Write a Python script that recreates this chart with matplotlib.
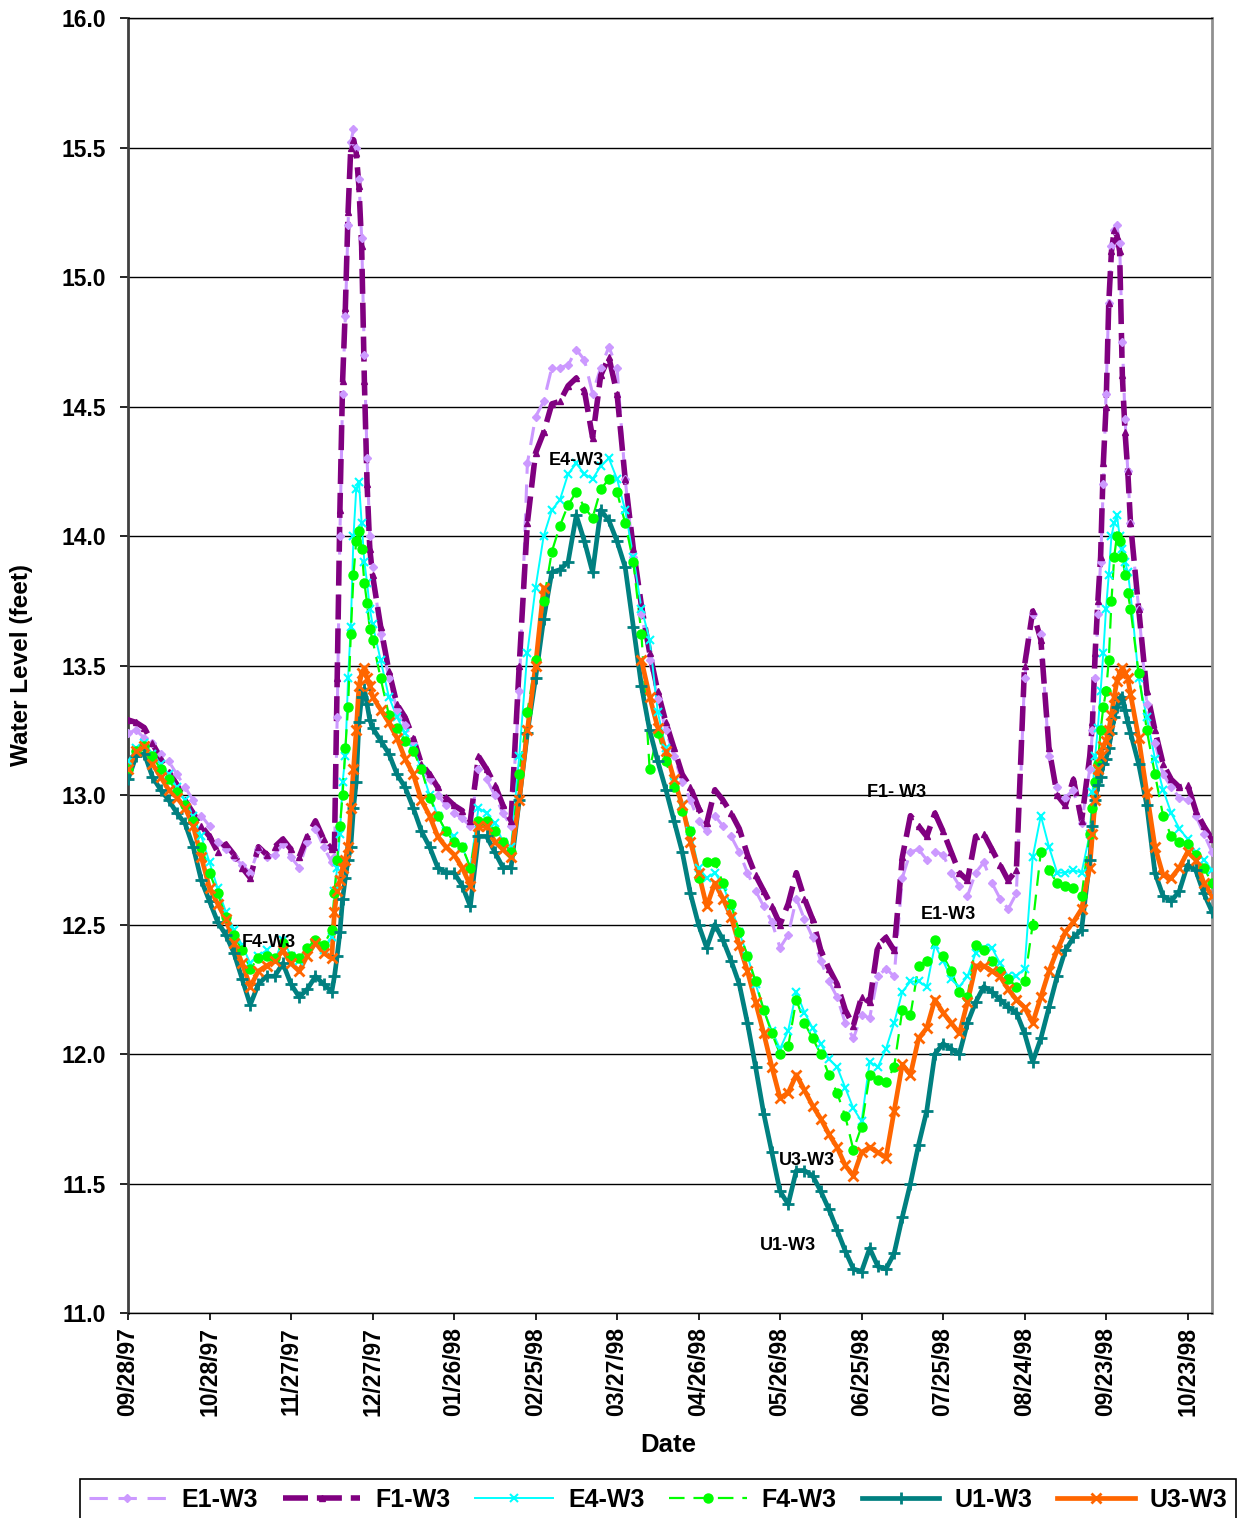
import numpy as np
import matplotlib
matplotlib.use('Agg')
import matplotlib.pyplot as plt
import matplotlib.dates as mdates
from matplotlib.lines import Line2D
from matplotlib.ticker import FormatStrFormatter

plt.rcParams['font.family'] = ['Liberation Sans', 'DejaVu Sans']
plt.rcParams['font.weight'] = 'bold'

nan = np.nan

# ── Data ──────────────────────────────────────────────────────────────────────
START = np.datetime64('1997-09-28')
# sample days, counted from START (denser around the two sharp peaks)
days = (list(range(0, 76, 3)) + list(range(76, 90)) + list(range(90, 355, 3))
        + list(range(355, 370)) + list(range(372, 400, 3)))

e1_w3 = [
    13.24, 13.25, 13.22, 13.20, 13.16, 13.13, 13.08, 13.03, 12.98, 12.92,
    12.88, 12.82, 12.79, 12.76, 12.73, 12.70, 12.79, 12.76, 12.77, 12.81,
    12.76, 12.72, 12.82, 12.87, 12.80, 12.74,
    12.76, 13.30, 14.00, 14.55, 14.85, 15.20, 15.52, 15.57, 15.50, 15.38, 15.15, 14.70, 14.30, 14.00,
    13.88, 13.62, 13.45, 13.33, 13.27, 13.20, 13.10, 13.06, 13.00, 12.96,
    12.93, 12.91, 12.88, 13.10, 13.06, 13.00, 12.93, 12.88, 13.40, 14.28,
    14.46, 14.52, 14.65, 14.65, 14.66, 14.72, 14.68, 14.55, 14.65, 14.73,
    14.65, 14.22, 13.92, 13.70, 13.52, 13.37, 13.25, 13.15, 13.05, 12.98,
    12.90, 12.86, 12.92, 12.88, 12.84, 12.78, 12.70, 12.63, 12.57, 12.51,
    12.41, 12.46, 12.60, 12.52, 12.45, 12.36, 12.28, 12.22, 12.12, 12.06,
    12.15, 12.14, 12.30, 12.33, 12.30, 12.68, 12.78, 12.79, 12.75, 12.78,
    12.77, 12.70, 12.65, 12.61, 12.70, 12.74, 12.66, 12.60, 12.56, 12.62,
    13.45, 13.70, 13.62, 13.15, 13.03, 12.99, 13.02, 12.89, 13.10,
    13.25, 13.45, 13.70, 13.90, 14.20, 14.55, 14.90, 15.12, 15.18, 15.20, 15.13, 14.75, 14.45, 14.25, 14.05,
    13.72, 13.35, 13.20, 13.08, 13.03, 12.99, 12.98, 12.92, 12.85, 12.78,
]

f1_w3 = [
    13.29, 13.28, 13.26, 13.20, 13.14, 13.09, 13.04, 12.98, 12.93, 12.88,
    12.84, 12.78, 12.81, 12.77, 12.72, 12.68, 12.80, 12.77, 12.80, 12.83,
    12.79, 12.76, 12.84, 12.90, 12.83, 12.79,
    12.80, 13.45, 14.10, 14.60, 14.88, 15.25, 15.50, 15.53, 15.48, 15.35, 15.12, 14.60, 14.20, 13.95,
    13.85, 13.65, 13.48, 13.35, 13.30, 13.22, 13.12, 13.08, 13.03, 12.99,
    12.96, 12.94, 12.90, 13.15, 13.10, 13.04, 12.96, 12.90, 13.50, 14.05,
    14.32, 14.40, 14.51, 14.52, 14.58, 14.61, 14.56, 14.38, 14.62, 14.69,
    14.55, 14.22, 13.95, 13.73, 13.55, 13.40, 13.28, 13.18, 13.08, 13.03,
    12.95, 12.89, 13.02, 12.98, 12.93, 12.87, 12.77, 12.69, 12.63, 12.57,
    12.50, 12.58, 12.70, 12.60, 12.52, 12.40, 12.33, 12.27, 12.17, 12.11,
    12.22, 12.20, 12.42, 12.45, 12.40, 12.76, 12.92, 12.88, 12.84, 12.93,
    12.86, 12.78, 12.70, 12.67, 12.84, 12.85, 12.79, 12.73, 12.67, 12.71,
    13.50, 13.71, 13.60, 13.18, 13.00, 12.96, 13.06, 12.90, 13.15,
    13.28, 13.55, 13.75, 13.92, 14.28, 14.50, 14.90, 15.10, 15.18, 15.16, 15.10, 14.62, 14.40, 14.25, 14.05,
    13.72, 13.40, 13.25, 13.12, 13.06, 13.03, 13.04, 12.94, 12.88, 12.83,
]

e4_w3 = [
    13.13, 13.18, 13.20, 13.16, 13.12, 13.08, 13.03, 12.98, 12.92, 12.84,
    12.74, 12.64, 12.55, 12.48, 12.42, 12.35, 12.38, 12.40, 12.36, 12.44,
    12.38, 12.36, 12.40, 12.43, 12.40, 12.45,
    12.63, 12.72, 12.85, 13.05, 13.15, 13.45, 13.65, 14.00, 14.18, 14.21, 14.05, 13.90, 13.82, 13.72,
    13.66, 13.52, 13.38, 13.30, 13.24, 13.18, 13.10, 13.00, 12.92, 12.86,
    12.84, 12.80, 12.72, 12.95, 12.93, 12.89, 12.82, 12.80, 13.15, 13.55,
    13.80, 14.00, 14.10, 14.14, 14.24, 14.28, 14.24, 14.22, 14.27, 14.30,
    14.22, 14.10, 13.92, 13.72, 13.60, 13.32, 13.18, 13.05, 12.96, 12.86,
    12.72, 12.68, 12.70, 12.65, 12.57, 12.47, 12.38, 12.27, 12.17, 12.09,
    12.02, 12.09, 12.24, 12.16, 12.10, 12.04, 11.98, 11.95, 11.87, 11.79,
    11.74, 11.97, 11.95, 12.02, 12.12, 12.24, 12.28, 12.28, 12.26, 12.42,
    12.36, 12.29, 12.26, 12.30, 12.39, 12.41, 12.41, 12.35, 12.30, 12.30,
    12.33, 12.76, 12.92, 12.80, 12.70, 12.70, 12.71, 12.70, 12.85,
    13.01, 13.15, 13.26, 13.40, 13.55, 13.72, 13.85, 14.00, 14.05, 14.08, 14.00, 13.95, 13.90, 13.86, 13.78,
    13.45, 13.30, 13.14, 13.02, 12.93, 12.87, 12.83, 12.78, 12.75, 12.71,
]

f4_w3 = [
    13.10, 13.17, 13.19, 13.15, 13.10, 13.06, 13.01, 12.96, 12.90, 12.80,
    12.70, 12.62, 12.53, 12.46, 12.40, 12.33, 12.37, 12.38, 12.37, 12.43,
    12.38, 12.37, 12.41, 12.44, 12.42, 12.48,
    12.62, 12.75, 12.88, 13.00, 13.18, 13.34, 13.62, 13.85, 13.98, 14.02, 13.95, 13.82, 13.74, 13.64,
    13.60, 13.45, 13.31, 13.26, 13.21, 13.17, 13.10, 12.99, 12.92, 12.86,
    12.82, 12.80, 12.72, 12.90, 12.90, 12.86, 12.82, 12.78, 13.08, 13.32,
    13.52, 13.75, 13.94, 14.04, 14.12, 14.17, 14.11, 14.07, 14.18, 14.22,
    14.17, 14.05, 13.90, 13.62, 13.10, 13.24, 13.13, 13.03, 12.94, 12.86,
    12.68, 12.74, 12.74, 12.66, 12.58, 12.47, 12.38, 12.28, 12.17, 12.08,
    12.00, 12.03, 12.21, 12.12, 12.06, 12.00, 11.92, 11.85, 11.76, 11.63,
    11.72, 11.92, 11.90, 11.89, 11.95, 12.17, 12.15, 12.34, 12.36, 12.44,
    12.38, 12.32, 12.24, 12.22, 12.42, 12.40, 12.36, 12.32, 12.29, 12.26,
    12.28, 12.50, 12.78, 12.71, 12.66, 12.65, 12.64, 12.61, 12.85,
    12.95, 13.05, 13.12, 13.25, 13.34, 13.40, 13.52, 13.75, 13.92, 14.00, 13.98, 13.92, 13.85, 13.78, 13.72,
    13.47, 13.25, 13.08, 12.92, 12.84, 12.82, 12.81, 12.77, 12.72, 12.66,
]

u1_w3 = [
    13.06, 13.15, 13.16, 13.07, 13.02, 12.98, 12.93, 12.89, 12.80, 12.67,
    12.59, 12.51, 12.46, 12.39, 12.29, 12.19, 12.27, 12.30, 12.30, 12.35,
    12.27, 12.22, 12.25, 12.30, 12.27, 12.24,
    12.30, 12.38, 12.47, 12.60, 12.68, 12.75, 12.80, 12.95, 13.05, 13.28, 13.38, 13.41, 13.35, 13.29,
    13.26, 13.21, 13.16, 13.08, 13.03, 12.95, 12.86, 12.80, 12.72, 12.70,
    12.70, 12.65, 12.57, 12.84, 12.84, 12.78, 12.72, 12.72, 12.98, 13.24,
    13.45, 13.68, 13.86, 13.87, 13.90, 14.08, 13.98, 13.86, 14.10, 14.06,
    13.98, 13.88, 13.65, 13.42, 13.25, 13.13, 13.02, 12.90, 12.78, 12.62,
    12.50, 12.41, 12.50, 12.44, 12.36, 12.27, 12.12, 11.95, 11.77, 11.62,
    11.47, 11.42, 11.55, 11.55, 11.53, 11.47, 11.40, 11.32, 11.24, 11.17,
    11.16, 11.25, 11.18, 11.17, 11.23, 11.37, 11.50, 11.65, 11.78, 12.00,
    12.04, 12.02, 12.00, 12.12, 12.20, 12.26, 12.24, 12.21, 12.18, 12.16,
    12.08, 11.97, 12.06, 12.18, 12.30, 12.40, 12.45, 12.48, 12.75,
    12.88, 12.98, 13.04, 13.07, 13.12, 13.14, 13.18, 13.24, 13.30, 13.34, 13.37, 13.38, 13.33, 13.28, 13.24,
    13.12, 12.96, 12.70, 12.61, 12.59, 12.63, 12.73, 12.71, 12.62, 12.55,
]

# U3 has no readings between mid-February and late March
u3_w3 = [
    13.10, 13.17, 13.19, 13.12, 13.07, 13.02, 12.99, 12.95, 12.88, 12.76,
    12.64, 12.58, 12.52, 12.43, 12.35, 12.26, 12.32, 12.34, 12.36, 12.40,
    12.35, 12.32, 12.38, 12.43, 12.39, 12.37,
    12.55, 12.63, 12.67, 12.72, 12.75, 12.80, 12.95, 13.10, 13.25, 13.42, 13.47, 13.49, 13.45, 13.42,
    13.38, 13.33, 13.28, 13.22, 13.14, 13.08, 12.98, 12.92, 12.84, 12.80,
    12.77, 12.72, 12.65, 12.88, 12.88, 12.82, 12.79, 12.76, 12.98, 13.25,
    13.50, 13.80, nan, nan, nan, nan, nan, nan, nan, nan,
    nan, nan, nan, 13.52, 13.38, 13.26, 13.17, 13.06, 12.96, 12.82,
    12.70, 12.57, 12.66, 12.60, 12.53, 12.42, 12.32, 12.20, 12.08, 11.95,
    11.83, 11.85, 11.92, 11.86, 11.80, 11.75, 11.69, 11.64, 11.57, 11.53,
    11.62, 11.64, 11.62, 11.60, 11.78, 11.96, 11.92, 12.06, 12.10, 12.21,
    12.16, 12.12, 12.08, 12.20, 12.34, 12.34, 12.32, 12.30, 12.25, 12.21,
    12.18, 12.12, 12.22, 12.32, 12.40, 12.47, 12.51, 12.56, 12.72,
    12.85, 12.98, 13.10, 13.15, 13.19, 13.21, 13.25, 13.31, 13.38, 13.44, 13.47, 13.49, 13.47, 13.45, 13.39,
    13.22, 13.01, 12.80, 12.69, 12.68, 12.72, 12.78, 12.75, 12.66, 12.61,
]

labels = ['E1-W3', 'F1-W3', 'E4-W3', 'F4-W3', 'U1-W3', 'U3-W3']
values = [e1_w3, f1_w3, e4_w3, f4_w3, u1_w3, u3_w3]
for lab, v in zip(labels, values):
    assert len(v) == len(days), (lab, len(v), len(days))

# ── Styles ────────────────────────────────────────────────────────────────────
styles = [
    dict(color='#CC99FF', lw=2.2, dashes=(6, 3.5), marker='D', ms=4.5, mew=1),
    dict(color='#800080', lw=4.0, dashes=(4.5, 1.6), marker='^', ms=5, mew=1),
    dict(color='#00FFFF', lw=1.4, dashes=None, marker='x', ms=6, mew=1.5),
    dict(color='#00FF00', lw=1.6, dashes=(7, 4), marker='o', ms=6.5, mew=1),
    dict(color='#008080', lw=3.4, dashes=None, marker='+', ms=9, mew=2),
    dict(color='#FF6600', lw=3.4, dashes=None, marker='x', ms=7, mew=2),
]

dates = START + np.array(days).astype('timedelta64[D]')

# ── Plot ──────────────────────────────────────────────────────────────────────
fig = plt.figure(figsize=(12.39, 15.18), dpi=100)
ax = fig.add_axes([128 / 1239, 1 - 1313 / 1518, 1084 / 1239, 1295 / 1518])

handles = []
for i, (v, st) in enumerate(zip(values, styles)):
    ln, = ax.plot(dates, v, color=st['color'], lw=st['lw'],
                  ls='-' if st['dashes'] is None else '--', zorder=3 + i)
    if st['dashes'] is not None:
        ln.set_dashes(st['dashes'])
    ax.plot(dates, v, ls='none', marker=st['marker'], ms=st['ms'], mew=st['mew'],
            color=st['color'], mec=st['color'], zorder=10 + i)
    h = Line2D([], [], color=st['color'], lw=st['lw'],
               ls='-' if st['dashes'] is None else '--',
               marker=st['marker'], ms=st['ms'], mew=st['mew'])
    if st['dashes'] is not None:
        h.set_dashes(st['dashes'])
    handles.append(h)

ax.set_ylim(11.0, 16.0)
ax.set_yticks(np.arange(11.0, 16.01, 0.5))
ax.yaxis.set_major_formatter(FormatStrFormatter('%.1f'))
ax.set_xlim(START, START + np.timedelta64(399, 'D'))
ax.set_xticks(START + np.arange(0, 391, 30).astype('timedelta64[D]'))
ax.xaxis.set_major_formatter(mdates.DateFormatter('%m/%d/%y'))
ax.tick_params(axis='x', rotation=90, labelsize=16.5, length=5, width=1.2, pad=5)
ax.tick_params(axis='y', labelsize=16.5, length=6, width=1.2, pad=10)
for lbl in ax.get_xticklabels() + ax.get_yticklabels():
    lbl.set_fontweight('bold')

ax.yaxis.grid(True, color='black', lw=1.0)
ax.set_axisbelow(True)
for side in ['top', 'bottom']:
    ax.spines[side].set_color('black')
    ax.spines[side].set_linewidth(1.0)
ax.spines['left'].set_color('#404040')
ax.spines['left'].set_linewidth(2.0)
ax.spines['right'].set_color('#909090')
ax.spines['right'].set_linewidth(2.0)

fig.text(22 / 1239, 1 - 665 / 1518, 'Water Level (feet)', rotation=90,
         ha='center', va='center', fontsize=17.5, fontweight='bold')
fig.text(668 / 1239, 1 - 1445 / 1518, 'Date', ha='center', va='center',
         fontsize=18.5, fontweight='bold')

# series labels inside the plot (positions in day offset / feet)
notes = [('F4-W3', 52, 12.43), ('E4-W3', 165, 14.29), ('F1- W3', 283, 13.01),
         ('E1-W3', 302, 12.54), ('U3-W3', 249.5, 11.59), ('U1-W3', 243, 11.26)]
for txt, d, v in notes:
    ax.text(START + np.timedelta64(int(round(d)), 'D'), v, txt, ha='center', va='center',
            fontsize=13, fontweight='bold', zorder=30)

leg = fig.legend(handles, labels, loc='upper left',
                 bbox_to_anchor=(80 / 1239, 1 - 1479 / 1518), borderaxespad=0,
                 ncol=6, fancybox=False, edgecolor='black', framealpha=1,
                 prop={'size': 18, 'weight': 'bold'}, handlelength=3.1,
                 handletextpad=0.6, columnspacing=1.0, borderpad=0.35)
leg.get_frame().set_linewidth(1.2)

fig.savefig('out.png', dpi=100)
